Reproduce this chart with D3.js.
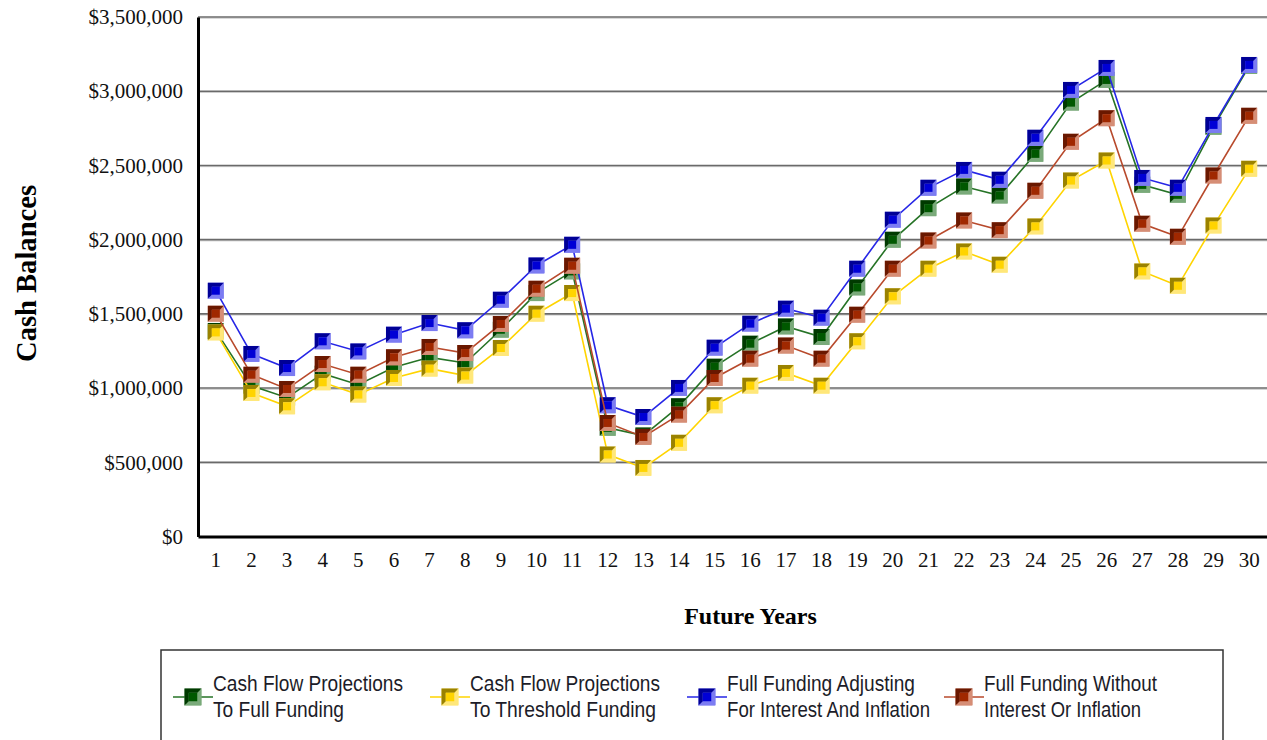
<!DOCTYPE html>
<html>
<head>
<meta charset="utf-8">
<script src="https://cdn.jsdelivr.net/npm/d3@7/dist/d3.min.js"></script>
<style>
html,body{margin:0;padding:0;background:#fff;}
svg{display:block;}
</style>
</head>
<body>
<svg id="chart" width="1267" height="740"></svg>
<script>
const years = d3.range(1, 31).map(String);
const yTicks = [0, 500000, 1000000, 1500000, 2000000, 2500000, 3000000, 3500000];

const cashFlowFull = [1385000, 1015000, 935000, 1097000, 1023000, 1140000, 1207000, 1169000, 1393000, 1640000,
  1786000, 732000, 680000, 877000, 1144000, 1299000, 1415000, 1344000, 1678000, 1999000,
  2212000, 2358000, 2297000, 2578000, 2923000, 3076000, 2369000, 2302000, 2760000, 3170000];
const cashFlowThreshold = [1375000, 967000, 877000, 1039000, 956000, 1068000, 1131000, 1084000, 1270000, 1501000,
  1640000, 552000, 462000, 631000, 884000, 1016000, 1102000, 1016000, 1315000, 1618000,
  1804000, 1920000, 1831000, 2089000, 2398000, 2533000, 1786000, 1689000, 2095000, 2477000];
const fullAdjusting = [1656000, 1230000, 1135000, 1315000, 1247000, 1360000, 1438000, 1389000, 1595000, 1826000,
  1965000, 884000, 805000, 1001000, 1272000, 1434000, 1535000, 1474000, 1804000, 2134000,
  2349000, 2470000, 2403000, 2686000, 3009000, 3157000, 2416000, 2349000, 2773000, 3177000];
const fullWithout = [1501000, 1090000, 994000, 1162000, 1090000, 1207000, 1277000, 1236000, 1432000, 1669000,
  1824000, 765000, 671000, 821000, 1068000, 1198000, 1286000, 1198000, 1494000, 1804000,
  1994000, 2129000, 2064000, 2329000, 2659000, 2818000, 2107000, 2019000, 2432000, 2834000];

const seriesNames = [
  ["Cash Flow Projections", "To Full Funding"],
  ["Cash Flow Projections", "To Threshold Funding"],
  ["Full Funding Adjusting", "For Interest And Inflation"],
  ["Full Funding Without", "Interest Or Inflation"]
];
const seriesValues = [cashFlowFull, cashFlowThreshold, fullAdjusting, fullWithout];

// styles (kept separate from data)
const styles = [
  {line: "#267326", dark: "#003a00", light: "#7aaa7a", inner: "#005800"},
  {line: "#ffd400", dark: "#9a8200", light: "#ffe77a", inner: "#ffd400"},
  {line: "#2626e6", dark: "#000096", light: "#7c7cf2", inner: "#0000d6"},
  {line: "#b84a2c", dark: "#6a1800", light: "#d68e76", inner: "#a02800"}
];
const legendTextWidths = [[190, 131], [190, 186], [188, 203], [173, 157]];

const svg = d3.select("#chart");
const plot = {left: 198, right: 1267, top: 17, bottom: 536.5};

const x = d3.scaleBand().domain(years).range([plot.left, plot.right]);
const y = d3.scaleLinear().domain([0, 3500000]).range([plot.bottom, plot.top]);
const cx = d => x(d) + x.bandwidth() / 2;

// gridlines
const grid = svg.append("g");
yTicks.filter(t => t > 0).forEach(t => {
  grid.append("line").attr("x1", plot.left).attr("x2", plot.right)
    .attr("y1", y(t) + 1.2).attr("y2", y(t) + 1.2)
    .attr("stroke", "#c8c8c8").attr("stroke-width", 1);
  grid.append("line").attr("x1", plot.left).attr("x2", plot.right)
    .attr("y1", y(t)).attr("y2", y(t))
    .attr("stroke", "#6a6a6a").attr("stroke-width", 1.6);
});

// y axis
const yAxis = d3.axisLeft(y).tickValues(yTicks).tickFormat(d3.format("$,")).tickSize(0).tickPadding(15);
const gy = svg.append("g").attr("transform", `translate(${plot.left},0)`).call(yAxis);
gy.select(".domain").attr("stroke", "#000").attr("stroke-width", 3);
gy.selectAll("text").attr("font-family", "Liberation Serif, Times New Roman, serif")
  .attr("font-size", 21).attr("fill", "#111");

// x axis
const xAxis = d3.axisBottom(x).tickSize(0).tickPadding(16);
const gx = svg.append("g").attr("transform", `translate(0,${plot.bottom})`).call(xAxis);
gx.select(".domain").attr("stroke", "#000").attr("stroke-width", 3);
gx.selectAll("text").attr("font-family", "Liberation Serif, Times New Roman, serif")
  .attr("font-size", 21).attr("fill", "#111");

// axis titles
svg.append("text").attr("x", 750.5).attr("y", 624).attr("text-anchor", "middle")
  .attr("font-family", "Liberation Serif, Times New Roman, serif").attr("font-weight", "bold")
  .attr("font-size", 24).attr("fill", "#000").text("Future Years");
svg.append("text").attr("transform", "translate(36,273.5) rotate(-90)").attr("text-anchor", "middle")
  .attr("font-family", "Liberation Serif, Times New Roman, serif").attr("font-weight", "bold")
  .attr("font-size", 30).attr("fill", "#000").attr("textLength", 177).attr("lengthAdjust", "spacingAndGlyphs")
  .text("Cash Balances");

// bevel marker
function marker(g, st, s) {
  const h = s / 2, b = s * 0.25, i = h - b;
  g.append("rect").attr("x", -h).attr("y", -h).attr("width", s).attr("height", s).attr("fill", st.light);
  g.append("path").attr("d", `M${-h},${-h}L${h},${-h}L${i},${-i}L${-i},${-i}L${-i},${i}L${-h},${h}Z`).attr("fill", st.dark);
  g.append("rect").attr("x", -i).attr("y", -i).attr("width", 2 * i).attr("height", 2 * i).attr("fill", st.inner);
  g.append("path").attr("d", `M${h - 0.5},${-h}L${h - 0.5},${h - 0.5}L${-h},${h - 0.5}`)
    .attr("fill", "none").attr("stroke", st.light).attr("stroke-width", 1).attr("opacity", 0.6);
}

const line = d3.line().x((d, i) => cx(years[i])).y(d => y(d));

seriesValues.forEach((vals, si) => {
  const st = styles[si];
  const g = svg.append("g");
  g.append("path").datum(vals).attr("d", line).attr("fill", "none")
    .attr("stroke", st.line).attr("stroke-width", 1.6);
  vals.forEach((v, i) => {
    const mg = g.append("g").attr("transform", `translate(${cx(years[i])},${y(v)})`);
    marker(mg, st, 16);
  });
});

// legend
svg.append("rect").attr("x", 161).attr("y", 650).attr("width", 1062).attr("height", 120)
  .attr("fill", "none").attr("stroke", "#333").attr("stroke-width", 1.5);
const legendX = [193, 450, 707, 964];
seriesNames.forEach((names, si) => {
  const st = styles[si];
  const lx = legendX[si], ly = 697;
  svg.append("line").attr("x1", lx - 20).attr("x2", lx + 20).attr("y1", ly).attr("y2", ly)
    .attr("stroke", st.line).attr("stroke-width", 1.6);
  const mg = svg.append("g").attr("transform", `translate(${lx},${ly})`);
  marker(mg, st, 17);
  names.forEach((t, li) => {
    svg.append("text").attr("x", lx + 20).attr("y", 691 + li * 26)
      .attr("font-family", "Liberation Sans, Arial, sans-serif").attr("font-size", 22)
      .attr("fill", "#1c1c28").attr("textLength", legendTextWidths[si][li])
      .attr("lengthAdjust", "spacingAndGlyphs").text(t);
  });
});
</script>
</body>
</html>
